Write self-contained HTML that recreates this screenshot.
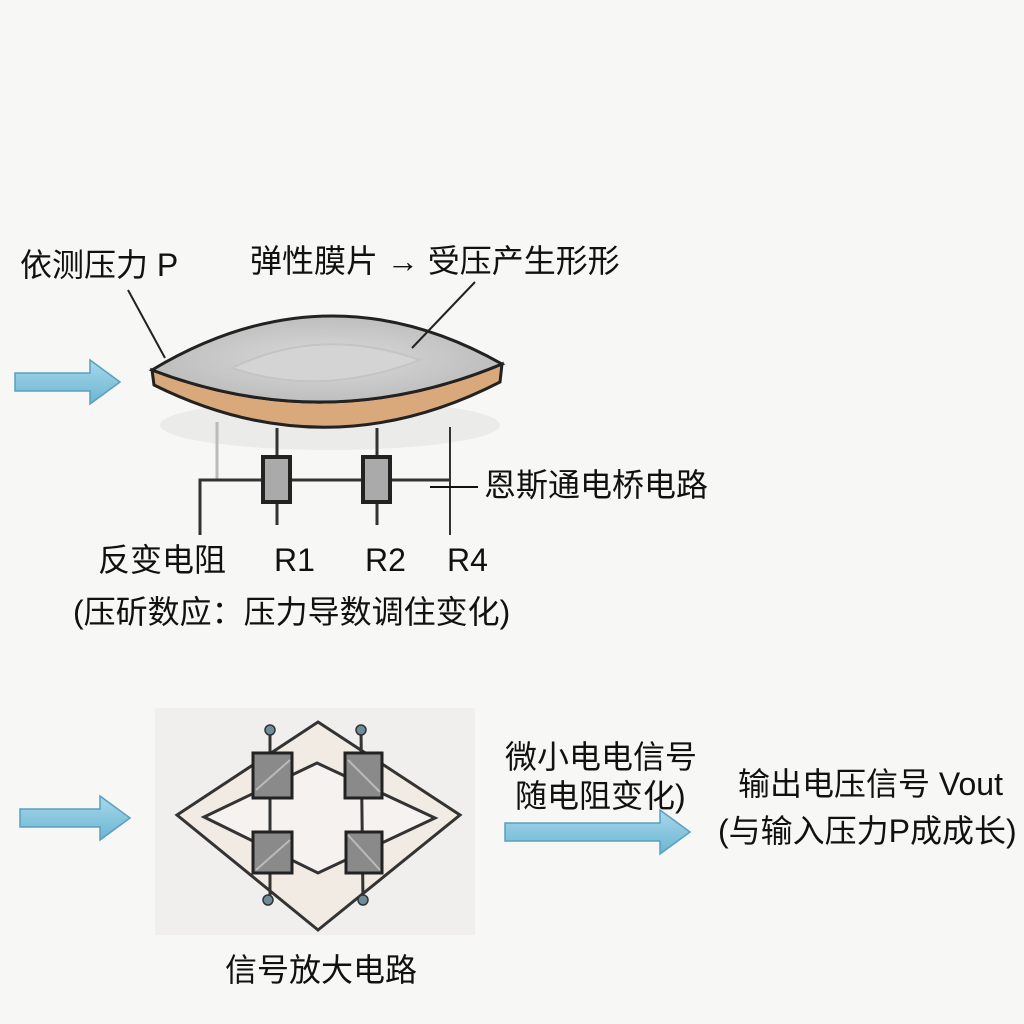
<!DOCTYPE html>
<html><head><meta charset="utf-8"><style>
body{margin:0;background:#f7f7f5;}
svg{display:block}
text{font-family:"Liberation Sans","Noto Sans CJK SC",sans-serif;fill:#111;font-size:32px}
</style></head><body>
<svg width="1024" height="1024" viewBox="0 0 1024 1024">
<defs>
<linearGradient id="ar" x1="0" y1="0" x2="0" y2="1"><stop offset="0" stop-color="#a8d8ea"/><stop offset="1" stop-color="#6bb5d3"/></linearGradient>
<radialGradient id="mem" cx="0.5" cy="0.5" r="0.6"><stop offset="0" stop-color="#dadada"/><stop offset="1" stop-color="#b8b8b8"/></radialGradient>
</defs>
<rect width="1024" height="1024" fill="#f7f7f5"/>
<g fill="url(#ar)" stroke="#5a9fbe" stroke-width="1.5">
<polygon points="15,373 90,373 90,360 120,382 90,404 90,391 15,391"/>
<polygon points="20,809 100,809 100,796 130,818 100,840 100,827 20,827"/>
<polygon points="505,823 660,823 660,810 690,832 660,854 660,841 505,841"/>
</g>
<ellipse cx="330" cy="425" rx="170" ry="25" fill="#ebebe9"/>
<path d="M152,370 Q327,437 502,364 L500,382 Q327,471 154,385 Z" fill="#d9a97c" stroke="#222" stroke-width="3"/>
<path d="M152,370 Q327,265 502,364 Q327,437 152,370 Z" fill="url(#mem)" stroke="#222" stroke-width="3"/>
<path d="M232,368 Q320,325 420,360 Q320,398 232,368Z" fill="#d4d4d4" stroke="#c4c4c4" stroke-width="2"/>
<line x1="128" y1="290" x2="165" y2="358" stroke="#222" stroke-width="2"/>
<line x1="475" y1="282" x2="412" y2="348" stroke="#222" stroke-width="2"/>
<g stroke="#333" stroke-width="3" fill="none">
<line x1="217" y1="422" x2="217" y2="480" stroke="#bbb"/>
<line x1="277" y1="428" x2="277" y2="525"/>
<line x1="377" y1="428" x2="377" y2="525"/>
<polyline points="200,535 200,480 450,480"/>
<line x1="450" y1="427" x2="450" y2="535" stroke-width="2"/>
<line x1="430" y1="487" x2="478" y2="487" stroke-width="2" stroke="#111"/>
</g>
<rect x="263" y="457" width="27" height="45" fill="#aaa" stroke="#222" stroke-width="4"/>
<rect x="363" y="457" width="27" height="45" fill="#aaa" stroke="#222" stroke-width="4"/>
<rect x="155" y="708" width="320" height="227" fill="#f0efed"/>
<polygon points="318,722 460,815 318,930 177,815" fill="#f1ebe4" stroke="#333" stroke-width="3"/>
<polygon points="317,763 435,818 318,873 204,817" fill="#f5f2ef" stroke="#333" stroke-width="3"/>
<g stroke="#333" stroke-width="3">
<line x1="270" y1="730" x2="270" y2="900"/>
<line x1="361" y1="730" x2="363" y2="900"/>
</g>
<g fill="#8a8a8a" stroke="#222" stroke-width="3">
<rect x="253" y="753" width="39" height="45"/>
<rect x="345" y="753" width="37" height="45"/>
<rect x="253" y="832" width="39" height="41"/>
<rect x="346" y="832" width="36" height="41"/>
</g>
<g stroke="#bbb" stroke-width="2">
<line x1="256" y1="870" x2="290" y2="840"/><line x1="348" y1="835" x2="380" y2="870"/>
<line x1="256" y1="790" x2="290" y2="760"/><line x1="348" y1="760" x2="380" y2="792"/>
</g>
<g fill="#6f8c9a" stroke="#333" stroke-width="1.5">
<circle cx="270" cy="730" r="5"/><circle cx="361" cy="730" r="5"/>
<circle cx="268" cy="900" r="5"/><circle cx="363" cy="900" r="5"/>
</g>
<text x="20" y="276">依测压力 P</text>
<text x="250" y="272">弹性膜片 → 受压产生形形</text>
<text x="484" y="496">恩斯通电桥电路</text>
<text x="98" y="571">反变电阻</text>
<text x="274" y="571">R1</text>
<text x="365" y="571">R2</text>
<text x="447" y="571">R4</text>
<text x="73" y="623">(压斫数应：压力导数调住变化)</text>
<text x="505" y="768">微小电电信号</text>
<text x="515" y="807">随电阻变化)</text>
<text x="738" y="795">输出电压信号 Vout</text>
<text x="718" y="842">(与输入压力P成成长)</text>
<text x="225" y="981">信号放大电路</text>
</svg>
</body></html>
